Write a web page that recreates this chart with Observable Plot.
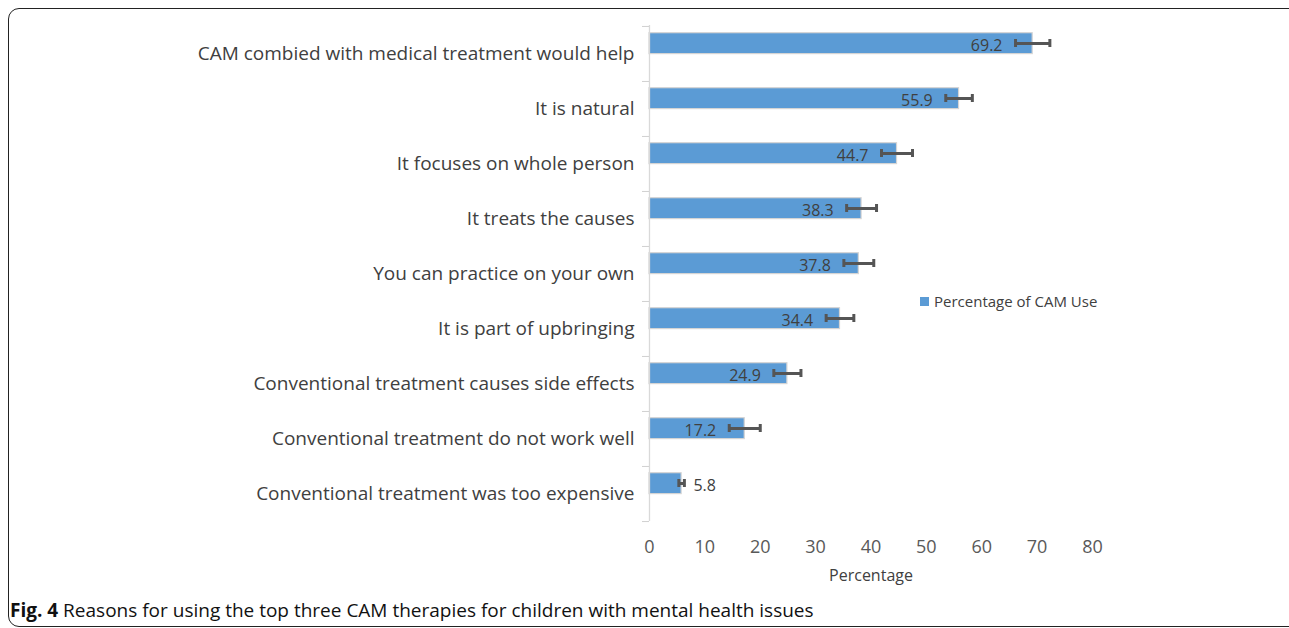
<!DOCTYPE html>
<html>
<head>
<meta charset="utf-8">
<script src="https://cdn.jsdelivr.net/npm/d3@7"></script>
<script src="https://cdn.jsdelivr.net/npm/@observablehq/plot@0.6"></script>
<style>
  html, body { margin: 0; padding: 0; background: #fff; }
  #wrap { position: relative; width: 1289px; height: 628px; overflow: hidden; background: #fff; }
  #frame { position: absolute; left: 8px; top: 8px; width: 1300px; height: 619px; border: 1.5px solid #222; border-radius: 11px; box-sizing: border-box; }
  #chart { position: absolute; left: 0; top: 0; }
  #legend { position: absolute; left: 920px; top: 291px; font-family: "Open Sans", sans-serif; font-size: 15px; color: #404040; display: flex; align-items: center; }
  #legend .sw { width: 9px; height: 9px; background: #5B9BD5; margin-right: 5px; }
  #caption { position: absolute; left: 10px; top: 597px; font-family: "Open Sans", sans-serif; font-size: 19px; color: #111; white-space: nowrap; }
  #caption b { font-weight: bold; }
</style>
</head>
<body>
<div id="wrap">
  <div id="frame"></div>
  <div id="chart"></div>
  <div id="legend"><span class="sw"></span>Percentage of CAM Use</div>
  <div id="caption"><b>Fig. 4</b> Reasons for using the top three CAM therapies for children with mental health issues</div>
</div>
<script>
const categories = [
  "CAM combied with medical treatment would help",
  "It is natural",
  "It focuses on whole person",
  "It treats the causes",
  "You can practice on your own",
  "It is part of upbringing",
  "Conventional treatment causes side effects",
  "Conventional treatment do not work well",
  "Conventional treatment was too expensive"
];
const values = [69.2, 55.9, 44.7, 38.3, 37.8, 34.4, 24.9, 17.2, 5.8];
const errors = [3.1, 2.4, 2.8, 2.7, 2.7, 2.5, 2.45, 2.8, 0.5];
const xTicks = [0, 10, 20, 30, 40, 50, 60, 70, 80];
const seriesName = "Percentage of CAM Use";
const xLabel = "Percentage";

const data = categories.map((c, i) => ({
  cat: c, value: values[i], lo: values[i] - errors[i], hi: values[i] + errors[i],
  label: values[i].toFixed(1)
}));
const inside = data.filter(d => d.value > 10);
const outside = data.filter(d => d.value <= 10);

const chart = Plot.plot({
  width: 1289,
  height: 590,
  marginLeft: 649,
  marginRight: 197,
  marginTop: 25,
  marginBottom: 69,
  style: { fontFamily: "'Open Sans', sans-serif", background: "transparent" },
  x: { domain: [0, 80] },
  y: { domain: categories, padding: 0 },
  marks: [
    Plot.barX(data, { x: "value", y: "cat", fill: "#5B9BD5", stroke: "#d4d4d4", strokeWidth: 1.2, insetTop: 6.7, insetBottom: 27.4 }),
    Plot.ruleX([0], { stroke: "#d9d9d9", strokeWidth: 1.3 }),
    Plot.axisY({ tickSize: 7, tickFormat: () => "", dy: -27.55, stroke: "#d0d0d0", label: null }),
    Plot.axisY([categories[categories.length - 1]], { tickSize: 7, tickFormat: () => "", dy: 27.55, stroke: "#d0d0d0", label: null }),
    Plot.axisY({ tickSize: 0, tickPadding: 15, fontSize: 19, fill: "#404040", label: null }),
    Plot.ruleY(data, { x1: "lo", x2: "hi", y: "cat", dy: -10.5, stroke: "#555", strokeWidth: 3 }),
    Plot.tickX(data, { x: "lo", y: "cat", insetTop: 13, insetBottom: 34, stroke: "#555", strokeWidth: 3 }),
    Plot.tickX(data, { x: "hi", y: "cat", insetTop: 13, insetBottom: 34, stroke: "#555", strokeWidth: 3 }),
    Plot.text(inside, { x: "lo", y: "cat", text: "label", textAnchor: "end", dx: -13, dy: -8.5, fontSize: 16, fill: "#404040" }),
    Plot.text(outside, { x: "hi", y: "cat", text: "label", textAnchor: "start", dx: 9, dy: -8.5, fontSize: 16, fill: "#404040" }),
    Plot.axisX({ ticks: xTicks, tickSize: 0, tickPadding: 19, fontSize: 18, fill: "#595959", label: null }),
    Plot.axisX({ ticks: [], tickSize: 0, fontSize: 16, fill: "#404040", label: xLabel, labelAnchor: "center", labelArrow: "none", labelOffset: 59 })
  ]
});
document.getElementById("chart").appendChild(chart);
</script>
</body>
</html>
